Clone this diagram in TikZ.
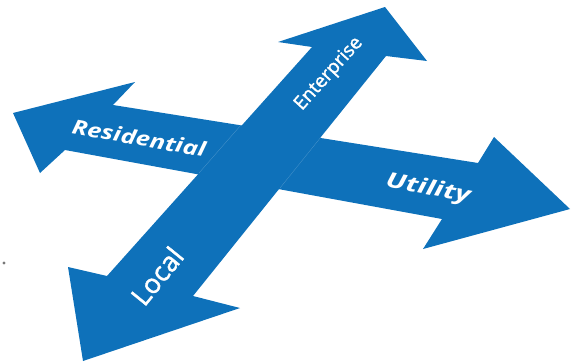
\documentclass[tikz,border=0pt]{standalone}
\usepackage{fontspec}
\setmainfont{Open Sans}
\newfontfamily\semifont{Open Sans}[FakeBold=1.6]
\usepackage{graphicx}
\definecolor{arrowblue}{RGB}{14,113,186}
\definecolor{dotgray}{RGB}{120,120,120}
\begin{document}
\begin{tikzpicture}[x=1pt,y=-1pt,
  lbl/.style={text=white, inner sep=0pt},
  seam/.style={draw=arrowblue!75!white, line width=0.3pt}]
\useasboundingbox (0,0) rectangle (580,362);
% horizontal double arrow (Residential <-> Utility)
\fill[arrowblue] (13,113) -- (135,82) -- (113,105) -- (478,163) -- (494,137)
  -- (570,209) -- (423,249) -- (442,219) -- (65,150) -- (40,173) -- cycle;
% diagonal double arrow (Local <-> Enterprise)
\fill[arrowblue] (385,7) -- (427,61) -- (386,56) -- (193,296) -- (240,308)
  -- (83,361) -- (68,267) -- (107,276) -- (312,47) -- (278,42) -- cycle;
\draw[seam] (241,125) -- (199,173);
\draw[seam] (321,137) -- (280,188);
% labels
\node[lbl, rotate=-10] (res) at (139,138)
  {\scalebox{1.28}[1]{\fontsize{20}{22}\selectfont\bfseries\itshape Residential}};
\node[lbl, rotate=-11] (uti) at (428,189)
  {\scalebox{1.4}[1]{\fontsize{21}{23}\selectfont\bfseries\itshape Utility}};
\node[lbl, rotate=48] (ent) at (329,74)
  {\fontsize{19}{21}\selectfont\semifont Enterprise};
\node[lbl, rotate=51] (loc) at (157,276)
  {\fontsize{27}{29}\selectfont\semifont Local};
% small dot at left
\fill[dotgray] (4,263) circle (1.6);
\end{tikzpicture}
\end{document}
